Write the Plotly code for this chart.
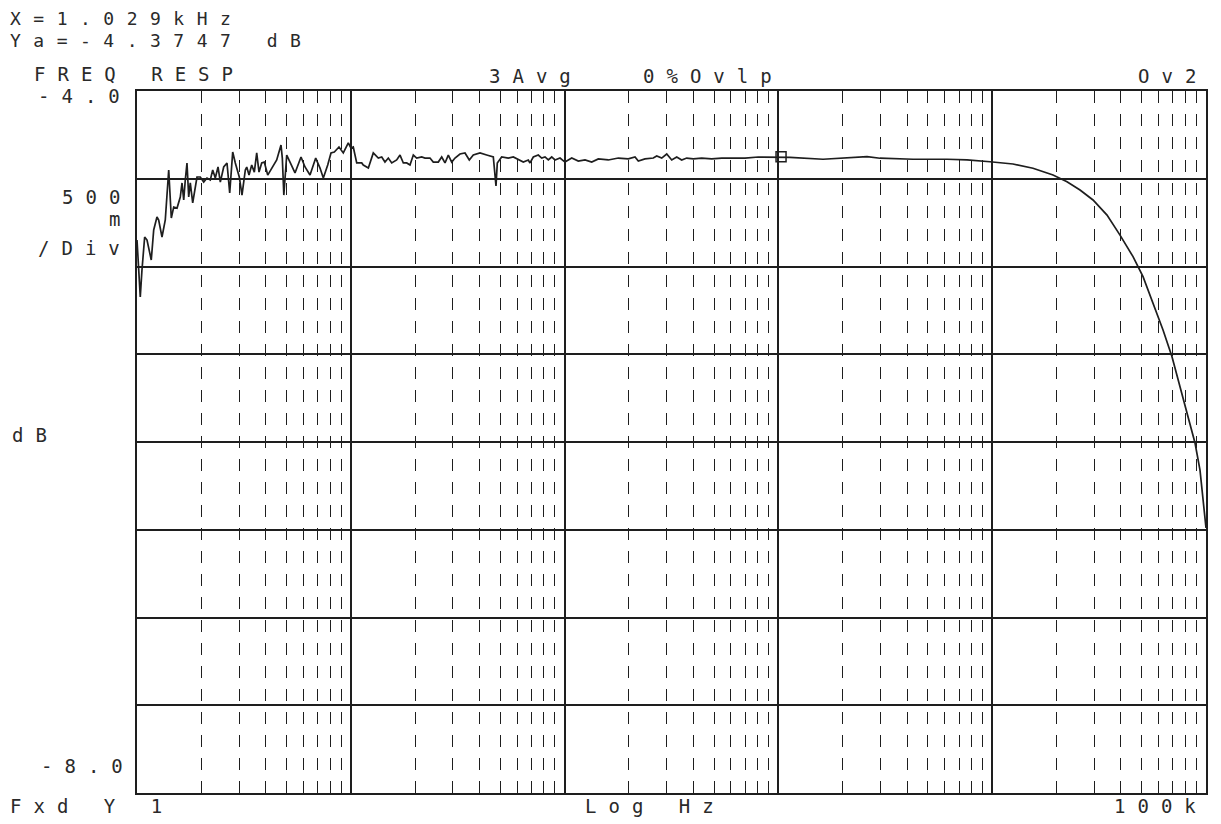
import plotly.graph_objects as go

# ---- data (frequency in Hz, magnitude in dB) ----
freq_hz = [
    1.000, 1.036, 1.055, 1.086, 1.114, 1.166, 1.197, 1.240, 1.263, 1.309,
    1.356, 1.407, 1.447, 1.485, 1.539, 1.594, 1.624, 1.654, 1.682, 1.713,
    1.745, 1.775, 1.822, 1.874, 1.908, 1.977, 2.051, 2.125, 2.202, 2.260,
    2.324, 2.393, 2.453, 2.544, 2.636, 2.714, 2.803, 2.883, 3.009, 3.098,
    3.211, 3.260, 3.342, 3.440, 3.538, 3.630, 3.721, 3.831, 3.939, 4.087,
    4.266, 4.502, 4.716, 4.783, 4.861, 5.015, 5.196, 5.483, 5.850, 6.107,
    6.445, 6.853, 7.178, 7.438, 7.798, 8.080, 8.372, 8.807, 9.224, 9.734,
    10.02, 10.27, 10.66, 11.25, 11.44, 12.08, 12.74, 13.45, 13.95, 14.45,
    14.98, 15.54, 16.39, 16.99, 17.61, 18.26, 18.92, 19.61, 20.33, 21.46,
    22.23, 23.46, 24.31, 25.66, 26.62, 27.58, 28.58, 29.65, 30.72, 32.41,
    34.21, 35.83, 37.41, 40.21, 43.21, 46.40, 47.77, 48.44, 50.78, 54.54,
    57.56, 60.74, 64.10, 67.64, 68.89, 71.40, 75.34, 78.15, 80.98, 83.91,
    87.04, 90.19, 95.17, 100.4, 108.0, 115.9, 124.6, 133.9, 143.8, 160.1,
    178.4, 198.6, 213.5, 221.2, 237.7, 260.0, 269.7, 284.6, 300.4, 317.0,
    334.5, 352.9, 372.5, 399.9, 437.8, 487.5, 543.1, 604.8, 698.1, 805.4,
    913.4, 1029, 1133, 1617, 2094, 2597, 2987, 4262, 6146, 7623,
    9765, 12510, 15515, 19250, 22380, 25750, 29620, 34440, 39610, 45570,
    50760, 56520, 62950, 69340, 75570, 82390, 88850, 93740, 100000,
]
mag_db = [
    -4.849, -5.174, -5.020, -4.832, -4.849, -4.963, -4.792, -4.718, -4.735, -4.832,
    -4.735, -4.450, -4.724, -4.661, -4.667, -4.604, -4.524, -4.621, -4.507, -4.410,
    -4.604, -4.524, -4.638, -4.547, -4.490, -4.490, -4.519, -4.496, -4.507, -4.450,
    -4.496, -4.433, -4.519, -4.433, -4.410, -4.581, -4.348, -4.410, -4.490, -4.593,
    -4.450, -4.433, -4.479, -4.422, -4.462, -4.353, -4.462, -4.410, -4.405, -4.479,
    -4.439, -4.393, -4.308, -4.382, -4.593, -4.365, -4.405, -4.467, -4.376, -4.433,
    -4.479, -4.382, -4.439, -4.496, -4.422, -4.353, -4.348, -4.319, -4.353, -4.296,
    -4.325, -4.319, -4.410, -4.410, -4.422, -4.439, -4.353, -4.382, -4.376, -4.405,
    -4.382, -4.410, -4.393, -4.365, -4.410, -4.410, -4.422, -4.365, -4.382, -4.376,
    -4.382, -4.382, -4.405, -4.405, -4.376, -4.410, -4.365, -4.405, -4.382, -4.359,
    -4.353, -4.393, -4.365, -4.353, -4.365, -4.376, -4.541, -4.410, -4.376, -4.382,
    -4.376, -4.393, -4.405, -4.393, -4.410, -4.376, -4.365, -4.382, -4.376, -4.393,
    -4.376, -4.393, -4.382, -4.405, -4.382, -4.399, -4.393, -4.405, -4.387, -4.393,
    -4.382, -4.387, -4.376, -4.399, -4.387, -4.382, -4.370, -4.382, -4.359, -4.393,
    -4.376, -4.393, -4.382, -4.387, -4.382, -4.387, -4.382, -4.382, -4.382, -4.376,
    -4.376, -4.3747, -4.378, -4.389, -4.383, -4.374, -4.383, -4.389, -4.389, -4.393,
    -4.403, -4.416, -4.440, -4.479, -4.517, -4.564, -4.621, -4.707, -4.821, -4.944,
    -5.058, -5.208, -5.362, -5.514, -5.685, -5.856, -6.006, -6.160, -6.490,
]

marker_freq = [1029]
marker_db = [-4.3747]

x_range_log = [0, 5]          # 1 Hz .. 100 kHz
y_range = [-8.0, -4.0]
y_step = 0.5

# ---- page geometry (page pixels; the html body adds an 8px margin) ----
PAGE_W, PAGE_H = 1221, 824
OFF = 8
L, R, T, B = 137, 1206, 91, 793
FIG_W, FIG_H = PAGE_W - OFF, PAGE_H - OFF

def px(x, y):
    return (x - L) / (R - L), 1 - (y - T) / (B - T)

FONT = "DejaVu Sans Mono"
INK = "#1e1e1e"

fig = go.Figure()
fig.add_trace(go.Scatter(
    x=freq_hz, y=mag_db, mode="lines",
    line=dict(color=INK, width=1.7), hoverinfo="skip", showlegend=False,
))
fig.add_trace(go.Scatter(
    x=marker_freq, y=marker_db, mode="markers",
    marker=dict(symbol="square-open", size=10, color=INK, line=dict(width=1.5, color=INK)),
    hoverinfo="skip", showlegend=False,
))

labels = [
    # text, x, y(center), anchor, font size, letter spacing
    ("X=1.029kHz", 8, 19, "left", 18, 12.5),
    ("Ya=-4.3747 dB", 8, 40, "left", 18, 12.5),
    ("FREQ RESP", 32, 74, "left", 19, 12),
    ("3Avg", 487, 76, "left", 19, 12),
    ("0%Ovlp", 641, 76, "left", 19, 12),
    ("Ov2", 1198, 76, "right", 19, 12),
    ("-4.0", 122, 96, "right", 19, 12),
    ("500", 122, 197, "right", 19, 12),
    ("m", 122, 219.5, "right", 19, 12),
    ("/Div", 122, 248, "right", 19, 12),
    ("dB", 10, 435, "left", 19, 12),
    ("-8.0", 125, 766, "right", 19, 12),
    ("Fxd Y 1", 8, 806, "left", 19, 12),
    ("Log Hz", 583, 806, "left", 19, 12),
    ("100k", 1198, 806, "right", 19, 12),
]
annotations = []
for txt, x, y, anchor, fs, sp in labels:
    xs = sp if anchor == "right" else 0
    ax, ay = px(x + xs, y)
    annotations.append(dict(
        text=f'<span style="letter-spacing:{sp}px">{txt}</span>',
        x=ax, y=ay, xref="paper", yref="paper",
        xanchor=anchor, yanchor="middle", showarrow=False,
        font=dict(family=FONT, size=fs, color="#2a2a2a"),
    ))

fig.update_layout(
    width=FIG_W, height=FIG_H,
    margin=dict(l=L - OFF, r=PAGE_W - R, t=T - OFF, b=PAGE_H - B, pad=0),
    paper_bgcolor="white", plot_bgcolor="white",
    annotations=annotations,
    xaxis=dict(
        type="log", range=x_range_log, dtick=1,
        showticklabels=False, ticks="",
        showgrid=True, gridcolor=INK, gridwidth=1.5,
        minor=dict(dtick="D1", showgrid=True, gridcolor=INK, gridwidth=1.3,
                   griddash="12px,11px", ticks=""),
        showline=True, linecolor=INK, linewidth=2, mirror=True,
        zeroline=False, fixedrange=True,
    ),
    yaxis=dict(
        range=y_range, dtick=y_step, tick0=-8,
        showticklabels=False, ticks="",
        showgrid=True, gridcolor=INK, gridwidth=1.8,
        showline=True, linecolor=INK, linewidth=2, mirror=True,
        zeroline=False, fixedrange=True,
    ),
)

fig.write_html("out.html")
